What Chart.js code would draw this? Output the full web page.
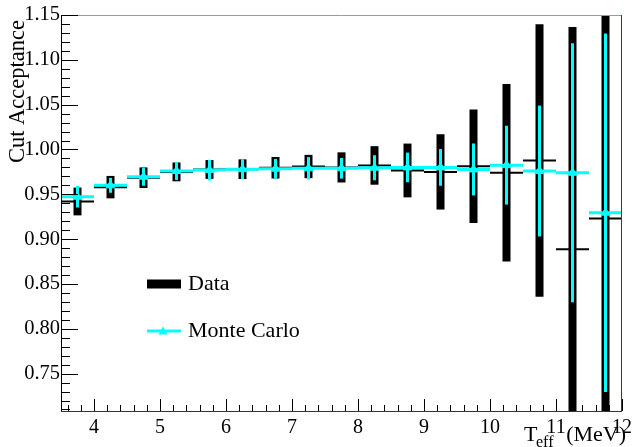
<!DOCTYPE html>
<html>
<head>
<meta charset="utf-8">
<script src="https://cdn.jsdelivr.net/npm/chart.js@4"></script>
<style>
  html, body { margin: 0; padding: 0; background: #fff; }
  #wrap { width: 637px; height: 447px; }
</style>
</head>
<body>
<div id="wrap"><canvas id="acc"></canvas></div>
<script>
// bin centres in T_eff (MeV), bins are 0.5 MeV wide
const binCenters = [3.75, 4.25, 4.75, 5.25, 5.75, 6.25, 6.75, 7.25, 7.75,
  8.25, 8.75, 9.25, 9.75, 10.25, 10.75, 11.25, 11.75];
const binWidth = 0.5;

// measured acceptance
const dataValues = [0.942, 0.958, 0.9685, 0.975, 0.9777, 0.978, 0.9796, 0.981, 0.980,
  0.9822, 0.9766, 0.975, 0.9814, 0.974, 0.9877, 0.8886, 0.923];
const dataErrors = [0.0155, 0.0125, 0.0115, 0.0105, 0.0105, 0.011, 0.012, 0.013, 0.0168,
  0.0215, 0.030, 0.042, 0.0633, 0.099, 0.152, 0.248, 0.35];

// simulated acceptance
const mcValues = [0.9473, 0.960, 0.9696, 0.976, 0.977, 0.978, 0.9785, 0.979, 0.979,
  0.9796, 0.980, 0.980, 0.9777, 0.9825, 0.976, 0.974, 0.9295];
const mcErrors = [0.012, 0.0083, 0.010, 0.010, 0.0115, 0.011, 0.011, 0.0125, 0.0115,
  0.014, 0.0165, 0.0205, 0.029, 0.044, 0.073, 0.1445, 0.2];

// axis ticks
const xTickValues = [4, 5, 6, 7, 8, 9, 10, 11, 12];
const yTickValues = [0.75, 0.80, 0.85, 0.90, 0.95, 1.00, 1.05, 1.10, 1.15];

const serif = '"Liberation Serif", "DejaVu Serif", serif';
const cyan = '#00ffff';

// error bars and bin lines, drawn under the markers
const histPlugin = {
  id: 'hist',
  beforeDatasetsDraw(chart) {
    const { ctx, chartArea: a, scales: { x, y } } = chart;
    ctx.save();
    ctx.beginPath();
    ctx.rect(a.left, a.top, a.right - a.left, a.bottom - a.top);
    ctx.clip();

    function drawSeries(values, errors, color, barW, lineW) {
      ctx.strokeStyle = color;
      ctx.lineCap = 'butt';
      for (let i = 0; i < binCenters.length; i++) {
        const px = x.getPixelForValue(binCenters[i]);
        ctx.lineWidth = barW;
        ctx.beginPath();
        ctx.moveTo(px, y.getPixelForValue(values[i] - errors[i]));
        ctx.lineTo(px, y.getPixelForValue(values[i] + errors[i]));
        ctx.stroke();
        const py = y.getPixelForValue(values[i]);
        ctx.lineWidth = lineW;
        ctx.beginPath();
        ctx.moveTo(x.getPixelForValue(binCenters[i] - binWidth / 2), py);
        ctx.lineTo(x.getPixelForValue(binCenters[i] + binWidth / 2), py);
        ctx.stroke();
      }
    }
    drawSeries(dataValues, dataErrors, '#000', 8, 2);
    drawSeries(mcValues, mcErrors, cyan, 3, 3);
    ctx.restore();
  },
  afterDraw(chart) {
    const { ctx, chartArea: a, scales: { x, y } } = chart;
    ctx.save();

    // frame
    ctx.lineWidth = 1;
    ctx.strokeStyle = '#999';
    ctx.beginPath(); ctx.moveTo(a.left, a.top + 0.5); ctx.lineTo(a.right, a.top + 0.5); ctx.stroke();
    ctx.strokeStyle = '#c00000';
    ctx.beginPath(); ctx.moveTo(a.right - 0.5, a.top); ctx.lineTo(a.right - 0.5, a.bottom); ctx.stroke();
    ctx.strokeStyle = '#8b1010';
    ctx.beginPath(); ctx.moveTo(a.left, a.bottom + 0.5); ctx.lineTo(a.right, a.bottom + 0.5); ctx.stroke();
    ctx.strokeStyle = '#000';
    ctx.beginPath(); ctx.moveTo(a.left + 0.5, a.top); ctx.lineTo(a.left + 0.5, a.bottom); ctx.stroke();

    // inside ticks
    ctx.strokeStyle = '#000';
    for (let v = 0.71; v <= 1.1501; v += 0.01) {
      const major = Math.abs(v * 20 - Math.round(v * 20)) < 1e-6;
      const py = Math.round(y.getPixelForValue(v)) + 0.5;
      ctx.beginPath();
      ctx.moveTo(a.left, py);
      ctx.lineTo(a.left + (major ? 17 : 9), py);
      ctx.stroke();
    }
    for (let v = 3.6; v <= 12.001; v += 0.2) {
      const major = Math.abs(v - Math.round(v)) < 1e-6;
      const px = Math.round(x.getPixelForValue(v)) + 0.5;
      ctx.beginPath();
      ctx.moveTo(px, a.bottom);
      ctx.lineTo(px, a.bottom - (major ? 12 : 6));
      ctx.stroke();
    }

    // axis titles
    ctx.fillStyle = '#000';
    ctx.font = '22.5px ' + serif;
    ctx.save();
    ctx.translate(24, 20);
    ctx.rotate(-Math.PI / 2);
    ctx.textAlign = 'right';
    ctx.textBaseline = 'alphabetic';
    ctx.fillText('Cut Acceptance', 0, 0);
    ctx.restore();

    ctx.textAlign = 'left';
    ctx.textBaseline = 'alphabetic';
    ctx.font = '22px ' + serif;
    ctx.fillText('T', 524, 441);
    ctx.font = '16px ' + serif;
    ctx.fillText('eff', 536, 447);
    ctx.font = '22px ' + serif;
    ctx.textAlign = 'right';
    ctx.fillText('(MeV)', 626, 441);

    // legend
    ctx.textAlign = 'left';
    ctx.textBaseline = 'middle';
    ctx.strokeStyle = '#000';
    ctx.lineWidth = 9;
    ctx.beginPath(); ctx.moveTo(147, 284); ctx.lineTo(181, 284); ctx.stroke();
    ctx.font = '22px ' + serif;
    ctx.fillText('Data', 188, 284);
    ctx.strokeStyle = cyan;
    ctx.lineWidth = 3;
    ctx.beginPath(); ctx.moveTo(147, 331); ctx.lineTo(181, 331); ctx.stroke();
    ctx.fillStyle = cyan;
    ctx.beginPath();
    ctx.moveTo(163, 326.5); ctx.lineTo(167.5, 334.5); ctx.lineTo(158.5, 334.5);
    ctx.closePath(); ctx.fill();
    ctx.fillStyle = '#000';
    ctx.fillText('Monte Carlo', 188, 331);

    ctx.restore();
  }
};

new Chart(document.getElementById('acc'), {
  type: 'scatter',
  data: {
    datasets: [
      {
        label: 'Data',
        data: binCenters.map((c, i) => ({ x: c, y: dataValues[i] })),
        pointRadius: 0,
        showLine: false
      },
      {
        label: 'Monte Carlo',
        data: binCenters.map((c, i) => ({ x: c, y: mcValues[i] })),
        pointStyle: 'triangle',
        pointRadius: 5,
        backgroundColor: cyan,
        borderColor: cyan,
        borderWidth: 1,
        showLine: false
      }
    ]
  },
  options: {
    responsive: true,
    maintainAspectRatio: false,
    animation: false,
    layout: { padding: { top: 15, right: 10, left: 0, bottom: 0 } },
    plugins: { legend: { display: false }, tooltip: { enabled: false } },
    scales: {
      x: {
        type: 'linear',
        min: 3.5,
        max: 12,
        grid: { display: false, drawTicks: false },
        border: { display: false },
        afterBuildTicks: s => { s.ticks = xTickValues.map(v => ({ value: v })); },
        afterFit: s => { s.height = 36; },
        ticks: {
          autoSkip: false, maxRotation: 0, padding: 5,
          color: '#000', font: { family: serif, size: 20 },
          callback: v => String(v)
        }
      },
      y: {
        type: 'linear',
        min: 0.7083,
        max: 1.15,
        grid: { display: false, drawTicks: false },
        border: { display: false },
        afterBuildTicks: s => { s.ticks = yTickValues.map(v => ({ value: v })); },
        afterFit: s => { s.width = 61; },
        ticks: {
          autoSkip: false, padding: 1,
          color: '#000', font: { family: serif, size: 20.5 },
          callback: v => v.toFixed(2)
        }
      }
    }
  },
  plugins: [histPlugin]
});
</script>
</body>
</html>
